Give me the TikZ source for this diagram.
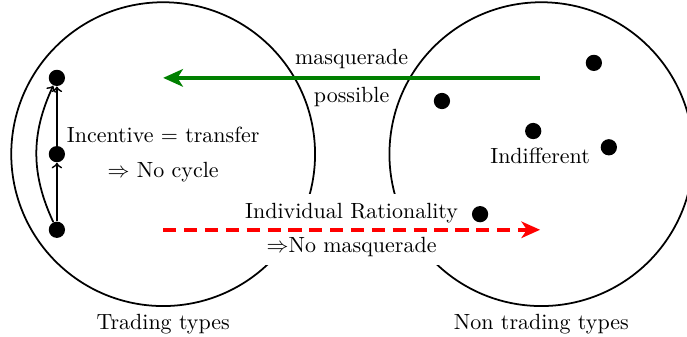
\documentclass[tikz,border=0pt]{standalone}
\usetikzlibrary{positioning}
\usetikzlibrary{arrows.meta}

\begin{document}
\begin{tikzpicture}[
    region/.style={circle, draw, thick, minimum size=4.86cm, inner sep=0pt},
    agent/.style={circle, fill=black, inner sep=0pt, minimum size=0.26cm},
    pref/.style={->, >=to, thick},
    masq/.style={-{Stealth[length=9pt, width=8pt, inset=2.5pt]}, line width=1.8pt, green!50!black},
    irline/.style={-{Stealth[length=8.5pt, width=7.5pt, inset=2.5pt]}, line width=1.8pt, red, dash pattern=on 6pt off 3.5pt},
    cover/.style={fill=white, inner ysep=4pt}
]
\useasboundingbox (0,0) rectangle (10.99,5.376);

% Regions
\node[region] (trading) at (2.61,2.91) {};
\node[region] (nontrading) at (8.66,2.91) {};
\node (tlabel) [below=0pt of trading] {Trading types};
\node (nlabel) [below=0pt of nontrading] {Non trading types};

% Trading types
\node[agent] (t1) at (0.91,4.13) {};
\node[agent] (t2) at (0.91,2.91) {};
\node[agent] (t3) at (0.91,1.70) {};
\draw[pref] (t3) -- (t2);
\draw[pref] (t2) -- (t1);
\draw[pref] (t3) to[bend left=25] (t1);
\node (incent) at (2.61,3.22) {Incentive $=$ transfer};
\node (nocycle) at (2.61,2.62) {$\Rightarrow$ No cycle};

% Non trading types
\node[agent] (n1) at (9.50,4.37) {};
\node[agent] (n2) at (7.07,3.76) {};
\node[agent] (n3) at (8.53,3.28) {};
\node[agent] (n4) at (9.74,3.02) {};
\node[agent] (n5) at (7.68,1.95) {};
\node (indiff) at (8.64,2.88) {Indifferent};

% Flows
\coordinate (gs) at (8.64,4.13);
\coordinate (ge) at (2.61,4.13);
\coordinate (rs) at (2.61,1.70);
\coordinate (re) at (8.64,1.70);
\draw[masq] (gs) -- node[midway, above, black] {masquerade} node[midway, below, black] {possible} (ge);
\path (rs) -- node[midway, cover, above=-1pt] (irtext) {Individual Rationality} node[midway, cover, below=-1pt] (nomasq) {$\Rightarrow$No masquerade} (re);
\draw[irline] (rs) -- (re);

\end{tikzpicture}
\end{document}
